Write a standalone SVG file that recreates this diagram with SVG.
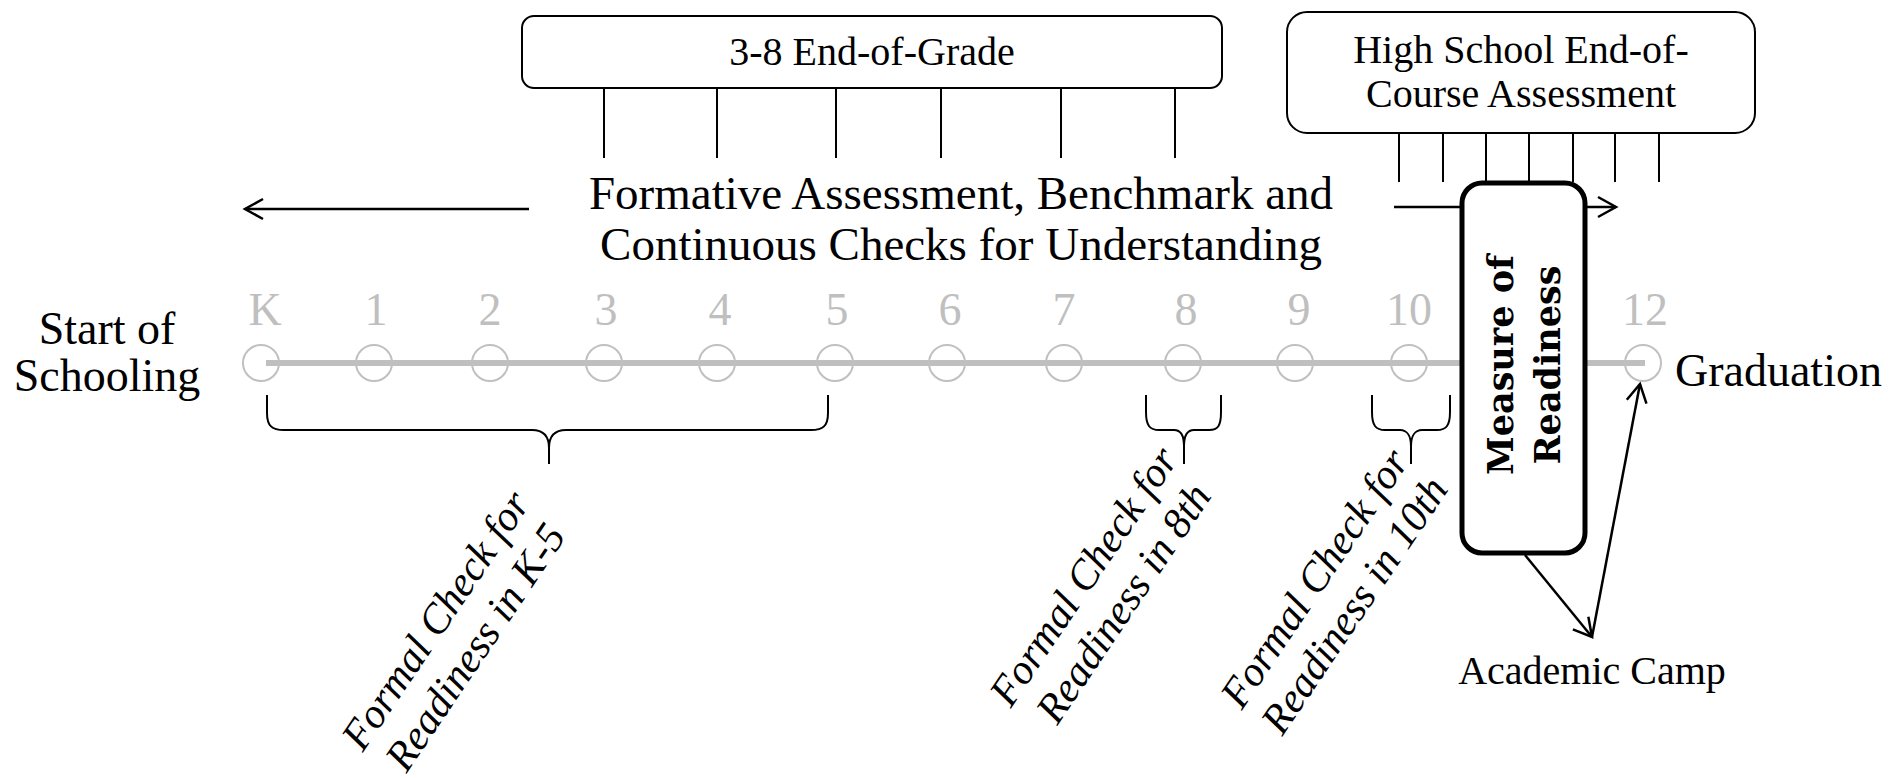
<svg xmlns="http://www.w3.org/2000/svg" width="1892" height="778" viewBox="0 0 1892 778">
<style>
.t{font-family:"Liberation Serif","Times New Roman",serif;fill:#000}
.g{font-family:"Liberation Serif","Times New Roman",serif;fill:#bfbfbf;font-size:46px;text-anchor:middle}
.box{fill:#fff;stroke:#000;stroke-width:2}
.tick{stroke:#000;stroke-width:2}
.ln{stroke:#000;stroke-width:2.5;fill:none}
.br{stroke:#000;stroke-width:2;fill:none}
.c{fill:none;stroke:#c0c0c0;stroke-width:2}
.it{font-family:"Liberation Serif","Times New Roman",serif;font-style:italic;font-size:42px;text-anchor:middle}
</style>
<defs>
<marker id="arr" markerWidth="22" markerHeight="24" refX="19" refY="11" orient="auto" markerUnits="userSpaceOnUse" overflow="visible">
<path d="M1,1 L19,11 L1,21" fill="none" stroke="#000" stroke-width="2.5"/>
</marker>
</defs>
<rect width="1892" height="778" fill="#fff"/>

<g id="timeline">
<line x1="266" y1="363" x2="1645" y2="363" stroke="#bfbfbf" stroke-width="6"/>
<circle class="c" cx="261" cy="363" r="18"/>
<circle class="c" cx="374" cy="363" r="18"/>
<circle class="c" cx="490" cy="363" r="18"/>
<circle class="c" cx="604" cy="363" r="18"/>
<circle class="c" cx="717" cy="363" r="18"/>
<circle class="c" cx="835" cy="363" r="18"/>
<circle class="c" cx="947" cy="363" r="18"/>
<circle class="c" cx="1064" cy="363" r="18"/>
<circle class="c" cx="1183" cy="363" r="18"/>
<circle class="c" cx="1295" cy="363" r="18"/>
<circle class="c" cx="1409" cy="363" r="18"/>
<circle class="c" cx="1643" cy="363" r="18"/>
<text class="g" x="265" y="325">K</text>
<text class="g" x="376" y="325">1</text>
<text class="g" x="490" y="325">2</text>
<text class="g" x="606" y="325">3</text>
<text class="g" x="720" y="325">4</text>
<text class="g" x="837" y="325">5</text>
<text class="g" x="950" y="325">6</text>
<text class="g" x="1064" y="325">7</text>
<text class="g" x="1186" y="325">8</text>
<text class="g" x="1299" y="325">9</text>
<text class="g" x="1409" y="325">10</text>
<text class="g" x="1645" y="325">12</text>
</g>

<g id="start">
<text class="t" x="107" y="344" font-size="46" text-anchor="middle">Start of</text>
<text class="t" x="107" y="391" font-size="46" text-anchor="middle">Schooling</text>
</g>
<g id="graduation">
<text class="t" x="1675" y="386" font-size="46">Graduation</text>
</g>

<g id="eog">
<rect class="box" x="522" y="16" width="700" height="72" rx="12"/>
<text class="t" x="872" y="65" font-size="40" text-anchor="middle">3-8 End-of-Grade</text>
</g>

<g id="eoc">
<rect class="box" x="1287" y="12" width="468" height="121" rx="20"/>
<text class="t" x="1521" y="63" font-size="40" text-anchor="middle">High School End-of-</text>
<text class="t" x="1521" y="107" font-size="40" text-anchor="middle">Course Assessment</text>
</g>

<g id="formative">
<text class="t" x="961" y="209" font-size="47" text-anchor="middle">Formative Assessment, Benchmark and</text>
<text class="t" x="961" y="260" font-size="47" text-anchor="middle">Continuous Checks for Understanding</text>
</g>

<g id="connectors">
<line class="tick" x1="604" y1="88" x2="604" y2="158"/>
<line class="tick" x1="717" y1="88" x2="717" y2="158"/>
<line class="tick" x1="836" y1="88" x2="836" y2="158"/>
<line class="tick" x1="941" y1="88" x2="941" y2="158"/>
<line class="tick" x1="1061" y1="88" x2="1061" y2="158"/>
<line class="tick" x1="1175" y1="88" x2="1175" y2="158"/>
<line class="tick" x1="1399" y1="133" x2="1399" y2="182"/>
<line class="tick" x1="1443" y1="133" x2="1443" y2="182"/>
<line class="tick" x1="1486" y1="133" x2="1486" y2="182"/>
<line class="tick" x1="1529" y1="133" x2="1529" y2="182"/>
<line class="tick" x1="1573" y1="133" x2="1573" y2="182"/>
<line class="tick" x1="1615" y1="133" x2="1615" y2="182"/>
<line class="tick" x1="1659" y1="133" x2="1659" y2="182"/>
<line class="ln" x1="529" y1="209" x2="245" y2="209" marker-end="url(#arr)"/>
<line class="ln" x1="1394" y1="207" x2="1616" y2="207" marker-end="url(#arr)"/>
<path class="br" d="M267,395 L267,413 C267,426 272,430 284,430 L532,430 C544,430 549,436 549,448 L549,464 M549,448 C549,436 554,430 566,430 L811,430 C823,430 828,426 828,413 L828,395"/>
<path class="br" d="M1146,395 L1146,412 C1146,426 1150,430 1159,430 L1174,430 C1181,430 1184,436 1184,446 L1184,464 M1184,446 C1184,436 1187,430 1194,430 L1209,430 C1218,430 1221,426 1221,412 L1221,395"/>
<path class="br" d="M1372,395 L1372,412 C1372,426 1376,430 1385,430 L1400,430 C1407,430 1411,436 1411,446 L1411,464 M1411,446 C1411,436 1415,430 1422,430 L1437,430 C1446,430 1450,426 1450,412 L1450,395"/>
<line class="ln" x1="1525" y1="555" x2="1592" y2="637" marker-end="url(#arr)"/>
<line class="ln" x1="1592" y1="637" x2="1640" y2="384" marker-end="url(#arr)"/>
</g>

<g id="measure">
<rect x="1462" y="183" width="123" height="370" rx="20" fill="#fff" stroke="#000" stroke-width="5"/>
<text transform="translate(1513,365) rotate(-90)" font-family="'DejaVu Serif',serif" font-weight="bold" font-size="35" text-anchor="middle">Measure of</text>
<text transform="translate(1560,365) rotate(-90)" font-family="'DejaVu Serif',serif" font-weight="bold" font-size="35" text-anchor="middle">Readiness</text>
</g>

<g id="camp">
<text class="t" x="1592" y="684" font-size="40" text-anchor="middle">Academic Camp</text>
</g>

<g id="k5">
<text class="it" transform="translate(447,628) rotate(-56)"><tspan x="0" y="0">Formal Check for</tspan><tspan x="0" dy="48">Readiness in K-5</tspan></text>
</g>
<g id="g8">
<text class="it" transform="translate(1095,584) rotate(-56)"><tspan x="0" y="0">Formal Check for</tspan><tspan x="0" dy="48">Readiness in 8th</tspan></text>
</g>
<g id="g10">
<text class="it" transform="translate(1326,586) rotate(-56)"><tspan x="0" y="0">Formal Check for</tspan><tspan x="0" dy="48">Readiness in 10th</tspan></text>
</g>
</svg>
